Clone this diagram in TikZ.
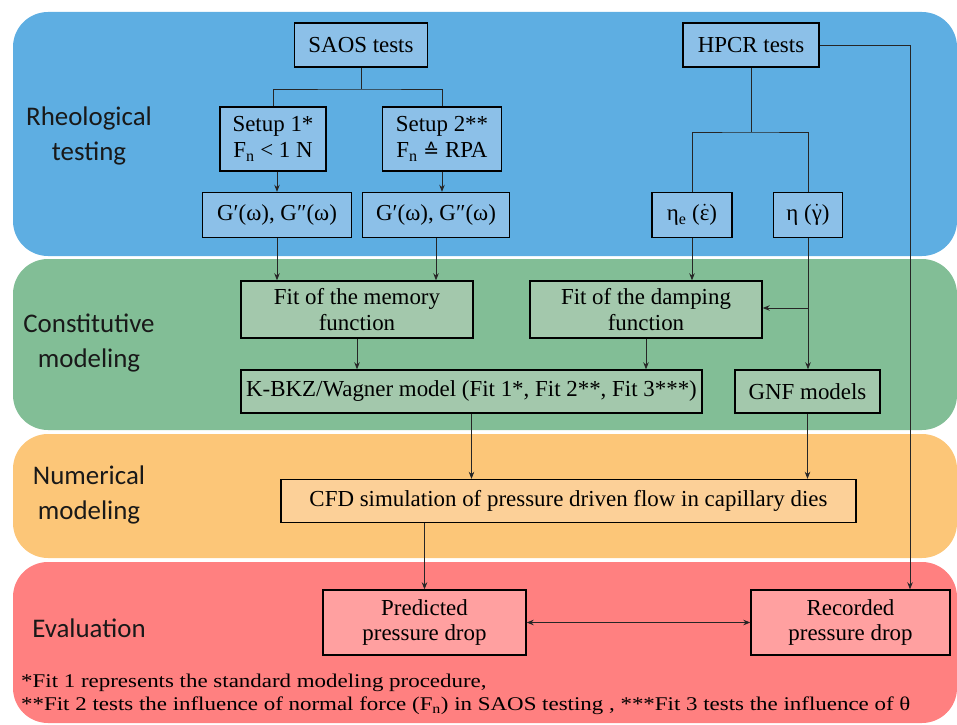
\documentclass[tikz,border=0pt]{standalone}
\usepackage{fontspec}
\setmainfont{Liberation Serif}
\newfontfamily\labfont{Carlito}
\newfontfamily\footfont{Liberation Serif}[FakeStretch=1.18]
\newfontfamily\symfont{DejaVu Sans}
\usetikzlibrary{arrows.meta}
\newcommand{\dotacc}[1]{\ensuremath{\dot{\mbox{#1}}}}
\definecolor{blueband}{RGB}{94,174,226}
\definecolor{bluebox}{RGB}{140,192,232}
\definecolor{greenband}{RGB}{130,190,150}
\definecolor{greenbox}{RGB}{163,200,172}
\definecolor{orangeband}{RGB}{252,198,120}
\definecolor{orangebox}{RGB}{252,208,152}
\definecolor{redband}{RGB}{255,128,128}
\definecolor{redbox}{RGB}{255,160,160}
\begin{document}
\begin{tikzpicture}[x=1bp,y=-1bp,
  box/.style={draw=black, line width=1.4bp, inner sep=0pt, align=center,
    font=\fontsize{23}{26}\selectfont},
  lab/.style={font=\labfont\fontsize{27}{35}\selectfont, align=center, text=black!90},
  foot/.style={font=\footfont\fontsize{19.5}{23}\selectfont, anchor=base west, inner sep=0pt},
  con/.style={line width=0.8bp, draw=black!85},
  arr/.style={con, -{Stealth[length=7bp,width=5.5bp]}},
  darr/.style={con, {Stealth[length=7bp,width=5.5bp]}-{Stealth[length=7bp,width=5.5bp]}}]
\useasboundingbox (0,0) rectangle (957,725);
% bands
\fill[blueband, rounded corners=35bp] (13,12) rectangle (957,256);
\fill[greenband, rounded corners=35bp] (13,259) rectangle (957,430);
\fill[orangeband, rounded corners=35bp] (13,434) rectangle (957,558);
\fill[redband, rounded corners=35bp] (13,562) rectangle (957,723);
% band labels
\node[lab] (l1) at (89,136) {Rheological\\testing};
\node[lab] (l2) at (89,343) {Constitutive\\modeling};
\node[lab] (l3) at (89,495) {Numerical\\modeling};
\node[lab] (l4) at (89,628) {Evaluation};
% nodes
\node[box, fill=bluebox, minimum width=133bp, minimum height=44bp] (saos) at (361,45) {SAOS tests};
\node[box, fill=bluebox, minimum width=136bp, minimum height=44bp] (hpcr) at (751,45) {HPCR tests};
\node[box, fill=bluebox, minimum width=106bp, minimum height=64bp] (set1) at (273,139) {Setup 1*\\F\textsubscript{n} < 1 N};
\node[box, fill=bluebox, minimum width=119bp, minimum height=64bp] (set2) at (442,139) {Setup 2**\\F\textsubscript{n} {\symfont\fontsize{19}{20}\selectfont ≙} RPA};
\node[box, fill=bluebox, minimum width=149bp, minimum height=45bp] (g1) at (277,215) {G′(ω), G″(ω)};
\node[box, fill=bluebox, minimum width=147bp, minimum height=45bp] (g2) at (436,215) {G′(ω), G″(ω)};
\node[box, fill=bluebox, minimum width=80bp, minimum height=45bp] (ee) at (692,215) {η\textsubscript{e} (\dotacc{ε})};
\node[box, fill=bluebox, minimum width=69bp, minimum height=45bp] (eta) at (808,215) {η (\dotacc{γ})};
\node[box, fill=greenbox, minimum width=232bp, minimum height=57bp] (fmem) at (357,309.5) {Fit of the memory\\function};
\node[box, fill=greenbox, minimum width=232bp, minimum height=57bp] (fdamp) at (646,309.5) {Fit of the damping\\function};
\node[box, fill=greenbox, minimum width=461bp, minimum height=43bp] (kbkz) at (471.5,391.5) {K-BKZ/Wagner model (Fit 1*, Fit 2**, Fit 3***)};
\node[box, fill=greenbox, minimum width=145bp, minimum height=43bp] (gnf) at (807.5,391.5) {GNF models};
\node[box, fill=orangebox, minimum width=575bp, minimum height=43bp] (cfd) at (568.5,501) {CFD simulation of pressure driven flow in capillary dies};
\node[box, fill=redbox, minimum width=203bp, minimum height=65bp] (pred) at (424.5,622.5) {Predicted\\pressure drop};
\node[box, fill=redbox, minimum width=199bp, minimum height=65bp] (rec) at (850.5,622.5) {Recorded\\pressure drop};
% footnotes
\node[foot] (fn1) at (21,687) {*Fit 1 represents the standard modeling procedure,};
\node[foot] (fn2) at (21,710) {**Fit 2 tests the influence of normal force (F\textsubscript{n}) in SAOS testing , ***Fit 3 tests the influence of θ};
% connectors
\coordinate (j1) at (361,89);
\draw[con] (saos.south) -- (j1);
\draw[con] (set1.north) |- (j1) -| (set2.north);
\draw[arr] (set1.south -| g1.north) -- (g1.north);
\draw[arr] (set2.south) -- (set2.south |- g2.north);
\draw[arr] (g1.south) -- (g1.south |- fmem.north);
\draw[arr] (g2.south) -- (g2.south |- fmem.north);
\coordinate (j2) at (751,132);
\draw[con] (hpcr.south) -- (j2);
\draw[con] (ee.north) |- (j2) -| (eta.north);
\draw[arr] (ee.south) -- (ee.south |- fdamp.north);
\coordinate (k) at (808,308);
\draw[arr] (eta.south) -- (eta.south |- gnf.north);
\draw[arr] (k) -- (k -| fdamp.east);
\draw[arr] (fmem.south) -- (fmem.south |- kbkz.north);
\draw[arr] (fdamp.south) -- (fdamp.south |- kbkz.north);
\draw[arr] (kbkz.south) -- (kbkz.south |- cfd.north);
\draw[arr] (gnf.south) -- (gnf.south |- cfd.north);
\draw[arr] (cfd.south -| pred.north) -- (pred.north);
\coordinate (r) at (910,45);
\draw[arr] (hpcr.east) -- (r) -- (r |- rec.north);
\draw[darr] (pred.east) -- (rec.west);
\end{tikzpicture}
\end{document}
